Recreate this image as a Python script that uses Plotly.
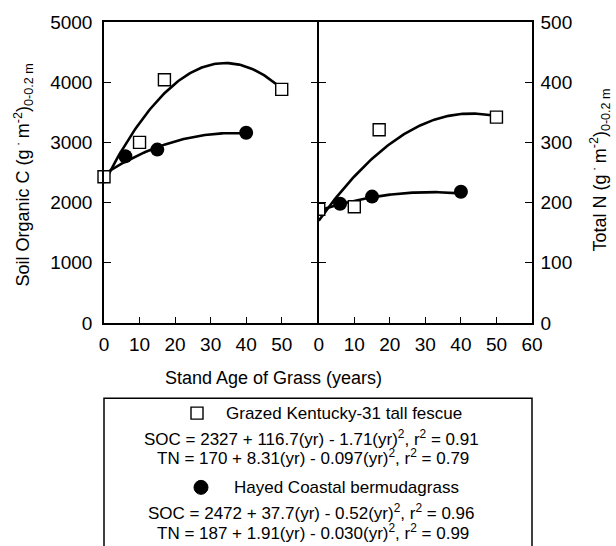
import plotly.graph_objects as go
import numpy as np

# ---- data ----
age_fescue_soc = [0, 10, 17, 50]
soc_fescue = [2430, 3000, 4040, 3880]
age_berm_soc = [6, 15, 40]
soc_berm = [2770, 2880, 3160]

age_fescue_tn = [0, 10, 17, 50]
tn_fescue = [189, 193, 321, 342]
age_berm_tn = [6, 15, 40]
tn_berm = [198, 210, 218]

# regression coefficients printed on the chart (a + b*yr + c*yr^2)
soc_fescue_fit = [2327, 116.7, -1.71]
soc_berm_fit = [2472, 37.7, -0.52]
tn_fescue_fit = [170, 8.31, -0.097]
tn_berm_fit = [187, 1.91, -0.030]
fescue_fit_max_age = 50
berm_fit_max_age = 40

x_ticks_left = [0, 10, 20, 30, 40, 50]
x_ticks_right = [0, 10, 20, 30, 40, 50, 60]
soc_ticks = [0, 1000, 2000, 3000, 4000, 5000]
tn_ticks = [0, 100, 200, 300, 400, 500]

legend_fescue = "Grazed Kentucky-31 tall fescue"
legend_fescue_soc = "SOC = 2327 + 116.7(yr) - 1.71(yr)<sup>2</sup>, r<sup>2</sup> = 0.91"
legend_fescue_tn = "TN = 170 + 8.31(yr) - 0.097(yr)<sup>2</sup>, r<sup>2</sup> = 0.79"
legend_berm = "Hayed Coastal bermudagrass"
legend_berm_soc = "SOC = 2472 + 37.7(yr) - 0.52(yr)<sup>2</sup>, r<sup>2</sup> = 0.96"
legend_berm_tn = "TN = 187 + 1.91(yr) - 0.030(yr)<sup>2</sup>, r<sup>2</sup> = 0.99"


def fit(coefs, xmax):
    xs = np.linspace(0, xmax, 101)
    return xs, coefs[0] + coefs[1] * xs + coefs[2] * xs ** 2


FONT = "Arial, Liberation Sans, sans-serif"
L, R, T, B = 104, 532, 19, 323
W, H = R - L, B - T
MID = 318
LW = 1.5


def px(x):
    return (x - L) / W


def py(y):
    return (B - y) / H


fig = go.Figure()

line_style = dict(color="black", width=2.6)
sq_fill = dict(symbol="square", size=12, color="white", line=dict(width=1.4, color="black"))
circ = dict(symbol="circle", size=14, color="black")

for coefs, xmax in [(soc_fescue_fit, fescue_fit_max_age), (soc_berm_fit, berm_fit_max_age)]:
    xs, ys = fit(coefs, xmax)
    fig.add_trace(go.Scatter(x=xs, y=ys, mode="lines", line=line_style, xaxis="x", yaxis="y",
                             showlegend=False, hoverinfo="skip"))
for coefs, xmax in [(tn_fescue_fit, fescue_fit_max_age), (tn_berm_fit, berm_fit_max_age)]:
    xs, ys = fit(coefs, xmax)
    fig.add_trace(go.Scatter(x=xs, y=ys, mode="lines", line=line_style, xaxis="x2", yaxis="y2",
                             showlegend=False, hoverinfo="skip"))

fig.add_trace(go.Scatter(x=age_berm_soc, y=soc_berm, mode="markers", marker=circ,
                         xaxis="x", yaxis="y", cliponaxis=False, showlegend=False))
fig.add_trace(go.Scatter(x=age_fescue_soc, y=soc_fescue, mode="markers", marker=sq_fill,
                         xaxis="x", yaxis="y", cliponaxis=False, showlegend=False))
fig.add_trace(go.Scatter(x=age_berm_tn, y=tn_berm, mode="markers", marker=circ,
                         xaxis="x2", yaxis="y2", showlegend=False))
fig.add_trace(go.Scatter(x=age_fescue_tn, y=tn_fescue, mode="markers", marker=sq_fill,
                         xaxis="x2", yaxis="y2", cliponaxis=True, showlegend=False))

axis_common = dict(showline=True, linecolor="black", linewidth=LW, showgrid=False, zeroline=False,
                   ticks="inside", tickcolor="black", tickwidth=1.3,
                   tickfont=dict(family=FONT, size=19, color="black"))

left_end = (MID - LW / 2 - L) / W
right_start = (MID + LW / 2 - L) / W

fig.update_layout(
    width=616, height=546,
    margin=dict(l=L, r=616 - R, t=T, b=546 - B),
    paper_bgcolor="white", plot_bgcolor="white",
    xaxis=dict(domain=[0, left_end], range=[0, 60], anchor="y", tickvals=x_ticks_left,
               ticklen=6, mirror=True, ticklabelstandoff=3, **axis_common),
    xaxis2=dict(domain=[right_start, 1], range=[0, 60], anchor="y2", tickvals=x_ticks_right,
                ticklen=6, mirror=True, ticklabelstandoff=3, **axis_common),
    yaxis=dict(range=[0, 5000], anchor="x", tickvals=soc_ticks, ticklen=7, mirror="ticks",
               ticklabelstandoff=6, **axis_common),
    yaxis2=dict(range=[0, 500], anchor="x2", side="right", tickvals=tn_ticks, ticklen=7,
                mirror="ticks", ticklabelstandoff=3, **axis_common),
)

ann_font = dict(family=FONT, size=18, color="black")
leg_font = dict(family=FONT, size=17, color="black")
annotations = [
    dict(text="Stand Age of Grass (years)", x=px(273), y=py(379), xref="paper", yref="paper",
         showarrow=False, xanchor="center", yanchor="middle", font=ann_font),
    dict(text="Soil Organic C (g<sup> · </sup>m<sup>-2</sup>)<sub>0-0.2 m</sub>", x=px(23), y=py(174),
         xref="paper", yref="paper", showarrow=False, textangle=-90, xanchor="center",
         yanchor="middle", font=ann_font),
    dict(text="Total N (g<sup> · </sup>m<sup>-2</sup>)<sub>0-0.2 m</sub>", x=px(600), y=py(169),
         xref="paper", yref="paper", showarrow=False, textangle=-90, xanchor="center",
         yanchor="middle", font=ann_font),
    dict(text=legend_fescue, x=px(224), y=py(414), xref="paper", yref="paper", showarrow=False,
         xanchor="left", yanchor="middle", font=leg_font),
    dict(text=legend_fescue_soc, x=px(311), y=py(439), xref="paper", yref="paper", showarrow=False,
         xanchor="center", yanchor="middle", font=leg_font),
    dict(text=legend_fescue_tn, x=px(313), y=py(458), xref="paper", yref="paper", showarrow=False,
         xanchor="center", yanchor="middle", font=leg_font),
    dict(text=legend_berm, x=px(232), y=py(489), xref="paper", yref="paper", showarrow=False,
         xanchor="left", yanchor="middle", font=leg_font),
    dict(text=legend_berm_soc, x=px(311), y=py(514), xref="paper", yref="paper", showarrow=False,
         xanchor="center", yanchor="middle", font=leg_font),
    dict(text=legend_berm_tn, x=px(313), y=py(534), xref="paper", yref="paper", showarrow=False,
         xanchor="center", yanchor="middle", font=leg_font),
]
fig.update_layout(annotations=annotations)

shapes = [
    dict(type="rect", xref="paper", yref="paper", x0=px(104), x1=px(532), y0=py(600), y1=py(399),
         line=dict(color="black", width=1.5), fillcolor="rgba(0,0,0,0)"),
    dict(type="rect", xref="paper", yref="paper", xsizemode="pixel", ysizemode="pixel",
         xanchor=px(197), yanchor=py(414), x0=-6, x1=6, y0=-6, y1=6,
         line=dict(color="black", width=1.4), fillcolor="white"),
    dict(type="circle", xref="paper", yref="paper", xsizemode="pixel", ysizemode="pixel",
         xanchor=px(201), yanchor=py(489), x0=-7, x1=7, y0=-7, y1=7,
         line=dict(color="black", width=1), fillcolor="black"),
]
fig.update_layout(shapes=shapes)

fig.write_html("out.html")
